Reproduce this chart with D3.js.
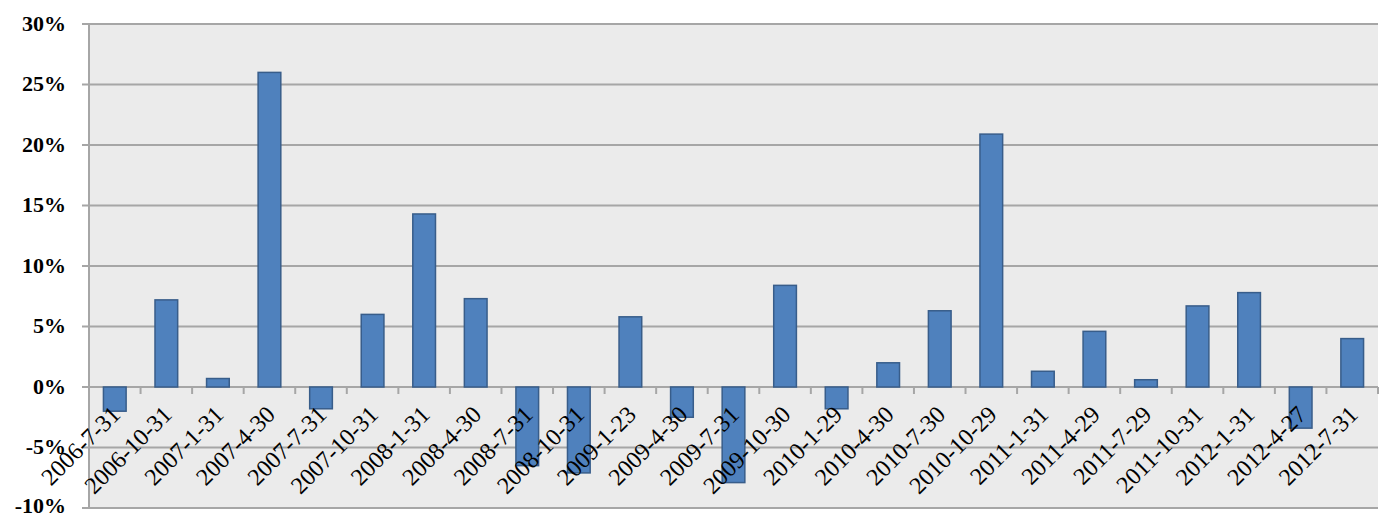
<!DOCTYPE html>
<html><head><meta charset="utf-8">
<script src="https://cdn.jsdelivr.net/npm/d3@7"></script>
<style>body{margin:0;background:#fff}svg{display:block}
text{font-family:"Liberation Serif","Times New Roman",Times,serif}</style>
</head><body>
<script>
const categories = ["2006-7-31","2006-10-31","2007-1-31","2007-4-30","2007-7-31","2007-10-31","2008-1-31","2008-4-30","2008-7-31","2008-10-31","2009-1-23","2009-4-30","2009-7-31","2009-10-30","2010-1-29","2010-4-30","2010-7-30","2010-10-29","2011-1-31","2011-4-29","2011-7-29","2011-10-31","2012-1-31","2012-4-27","2012-7-31"];
const values = [-2.0,7.2,0.7,26.0,-1.8,6.0,14.3,7.3,-6.5,-7.1,5.8,-2.5,-7.9,8.4,-1.8,2.0,6.3,20.9,1.3,4.6,0.6,6.7,7.8,-3.4,4.0];
const yTicks = [-10,-5,0,5,10,15,20,25,30];

const W = 1389, H = 519;
const m = {left: 89, right: 11, top: 24, bottom: 11};
const svg = d3.select("body").append("svg").attr("width", W).attr("height", H);
const x = d3.scaleBand().domain(categories).range([m.left, W - m.right]).paddingInner(0.56).paddingOuter(0.28);
const xb = d3.scaleBand().domain(categories).range([m.left, W - m.right]);
const y = d3.scaleLinear().domain([-10, 30]).range([H - m.bottom, m.top]);

svg.append("rect").attr("x", m.left).attr("y", m.top).attr("width", W - m.right - m.left).attr("height", y(-10) - m.top).attr("fill", "#ebebeb");

// gridlines
svg.append("g").selectAll("line").data(yTicks).join("line")
  .attr("x1", m.left - 7).attr("x2", W - m.right)
  .attr("y1", d => y(d)).attr("y2", d => y(d))
  .attr("stroke", "#a6a6a6").attr("stroke-width", 2);
// left axis
svg.append("line").attr("x1", m.left).attr("x2", m.left).attr("y1", m.top).attr("y2", y(-10))
  .attr("stroke", "#a6a6a6").attr("stroke-width", 2);

// category ticks on zero line
svg.append("g").selectAll("line").data(categories.slice(1)).join("line")
  .attr("x1", d => xb(d)).attr("x2", d => xb(d))
  .attr("y1", y(0)).attr("y2", y(0) + 7)
  .attr("stroke", "#a6a6a6").attr("stroke-width", 2);
svg.append("line").attr("x1", W - m.right).attr("x2", W - m.right).attr("y1", y(0)).attr("y2", y(0) + 7)
  .attr("stroke", "#a6a6a6").attr("stroke-width", 2);

// bars
svg.append("g").selectAll("rect").data(values).join("rect")
  .attr("x", (d, i) => x(categories[i]))
  .attr("width", x.bandwidth())
  .attr("y", d => y(Math.max(0, d)))
  .attr("height", d => Math.abs(y(d) - y(0)))
  .attr("fill", "#4f81bd").attr("stroke", "#385d8a").attr("stroke-width", 1.5);

// y labels
svg.append("g").selectAll("text").data(yTicks).join("text")
  .attr("x", 66).attr("y", d => y(d)).attr("dy", d => d === -10 ? "0.22em" : "0.3em")
  .attr("text-anchor", "end")
  .attr("font-weight", "bold").attr("font-size", 22)
  .text(d => d + "%");

// x labels
svg.append("g").selectAll("text").data(categories).join("text")
  .attr("transform", d => `translate(${xb(d) + xb.bandwidth()/2 + 7},${y(0) + 29}) rotate(-45)`)
  .attr("text-anchor", "end")
  .attr("font-size", 24)
  .attr("fill", "#000")
  .text(d => d);
</script>
</body></html>
